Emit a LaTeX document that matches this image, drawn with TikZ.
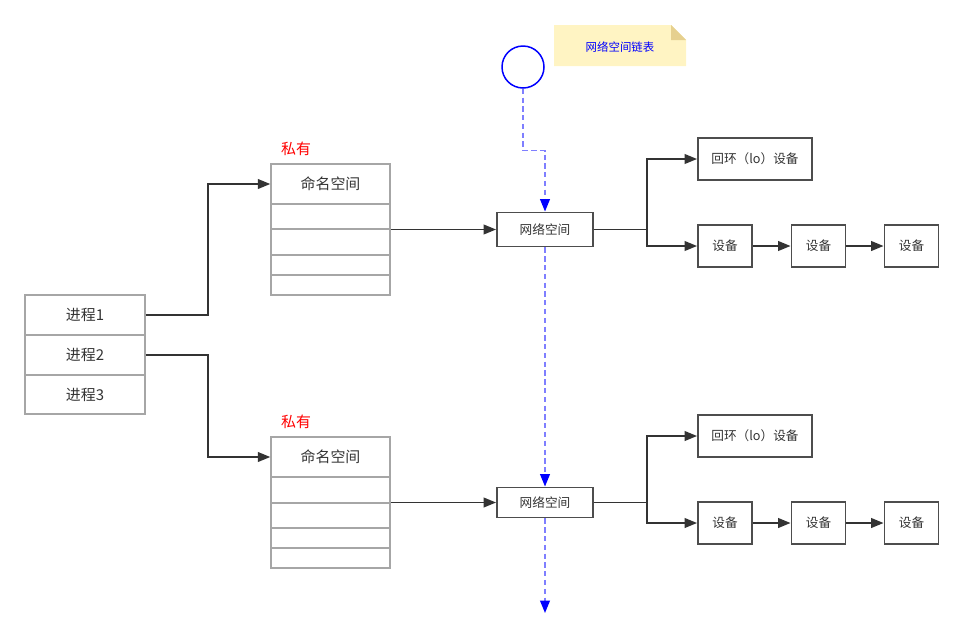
\documentclass[tikz,border=0pt]{standalone}
\usepackage{fontspec}
\setmainfont{Noto Sans CJK SC}
\usetikzlibrary{arrows.meta,calc}
\definecolor{inkgray}{HTML}{333333}
\definecolor{boxgray}{HTML}{4D4D4D}
\definecolor{tblgray}{HTML}{A6A6A6}
\definecolor{dashblue}{HTML}{7F7FFF}
\definecolor{noteyellow}{HTML}{FFF4C3}
\definecolor{notefold}{HTML}{E6D08F}

\begin{document}
\begin{tikzpicture}[x=0.02cm,y=-0.02cm,
  box/.style={draw=boxgray,line width=1.1pt,inner sep=0pt,text=inkgray,font=\fontsize{7.2}{8}\selectfont},
  row/.style={draw=tblgray,line width=0.85pt,inner sep=0pt,text=inkgray,font=\fontsize{8.5}{10}\selectfont,minimum width=2.4cm},
  arr/.style={draw=inkgray,line width=0.9pt,-{Triangle[length=7pt,width=5.5pt]}},
  chain/.style={draw=dashblue,line width=0.85pt,dash pattern=on 3pt off 2pt,-{Triangle[length=7pt,width=5.5pt,color=blue]}},
  tag/.style={text=red,font=\fontsize{8.5}{10}\selectfont}]

%\draw[help lines,step=50] (0,0) grid (963,636);
\useasboundingbox (0,0) rectangle (963,636);

% Set sizes (px)
\def\pxl{0.02cm}
\def\tblw{119}  %<- width of a namespace table
\def\netw{96}   %<- width of a net namespace box

% Head of the list
\node[circle,draw=blue,line width=0.85pt,minimum size=42*\pxl,inner sep=0pt] (head) at (523,67) {};

% Note
\fill[noteyellow] (554,25) -- (671,25) -- (686,40) -- (686,66) -- (554,66) -- cycle;
\fill[notefold] (671,25) -- (686,40) -- (671,40) -- cycle;
\node[text=blue,font=\fontsize{6.5}{8}\selectfont] (note) at (620,47) {网络空间链表};

% Processes
\node[row,minimum height=40*\pxl] (p1) at (85,315) {进程1};
\node[row,minimum height=40*\pxl] (p2) at (85,355) {进程2};
\node[row,minimum height=39*\pxl] (p3) at (85,394.5) {进程3};

% Namespace table 1
\node[row,minimum width=\tblw*\pxl,minimum height=131*\pxl] (ns1) at (330.5,229.5) {};
\node[row,minimum width=\tblw*\pxl,minimum height=40*\pxl] (ns1hd) at (330.5,184) {命名空间};
\draw[tblgray,line width=0.85pt] (271,229) -- (390,229) (271,255) -- (390,255) (271,275) -- (390,275);
\node[tag] (tag1) at (296,149) {私有};

% Namespace table 2
\node[row,minimum width=\tblw*\pxl,minimum height=131*\pxl] (ns2) at (330.5,502.5) {};
\node[row,minimum width=\tblw*\pxl,minimum height=40*\pxl] (ns2hd) at (330.5,457) {命名空间};
\draw[tblgray,line width=0.85pt] (271,503) -- (390,503) (271,528) -- (390,528) (271,548) -- (390,548);
\node[tag] (tag2) at (296,422) {私有};

% Net namespaces
\node[box,minimum width=\netw*\pxl,minimum height=34*\pxl] (net1) at (545,229.5) {网络空间};
\node[box,minimum width=\netw*\pxl,minimum height=30*\pxl] (net2) at (545,502.5) {网络空间};
\coordinate (tail) at (545,613);

% Devices of net 1
\node[box,minimum width=114*\pxl,minimum height=42*\pxl] (lo1) at (755,159) {回环（lo）设备};
\node[box,minimum width=54*\pxl,minimum height=42*\pxl] (d11) at (725,246) {设备};
\node[box,minimum width=54*\pxl,minimum height=42*\pxl] (d12) at (818.5,246) {设备};
\node[box,minimum width=54*\pxl,minimum height=42*\pxl] (d13) at (911.5,246) {设备};

% Devices of net 2
\node[box,minimum width=114*\pxl,minimum height=42*\pxl] (lo2) at (755,436) {回环（lo）设备};
\node[box,minimum width=54*\pxl,minimum height=42*\pxl] (d21) at (725,523) {设备};
\node[box,minimum width=54*\pxl,minimum height=42*\pxl] (d22) at (818.5,523) {设备};
\node[box,minimum width=54*\pxl,minimum height=42*\pxl] (d23) at (911.5,523) {设备};

% Links
\draw[arr] (p1.east) -- ++(62,0) |- (ns1hd.west);
\draw[arr] (p2.east) -- ++(62,0) |- (ns2hd.west);
\draw[arr] (ns1.east) -- (net1.west);
\draw[arr] (ns2.east) -- (net2.west);
\draw[arr] (net1.east) -- ++(53,0) |- (lo1.west);
\draw[arr] (net1.east) -- ++(53,0) |- (d11.west);
\draw[arr] (net2.east) -- ++(53,0) |- (lo2.west);
\draw[arr] (net2.east) -- ++(53,0) |- (d21.west);
\draw[arr] (d11) -- (d12);
\draw[arr] (d12) -- (d13);
\draw[arr] (d21) -- (d22);
\draw[arr] (d22) -- (d23);

% List chain
\draw[chain] (head.south) -- ++(0,62) -| (net1.north);
\draw[chain] (net1.south) -- (net2.north);
\draw[chain] (net2.south) -- (tail);

\end{tikzpicture}
\end{document}
